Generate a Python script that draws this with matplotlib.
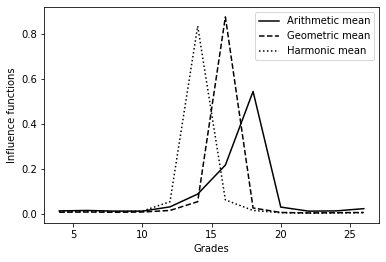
import numpy as np
import matplotlib
matplotlib.use("Agg")
import matplotlib.pyplot as plt

grades = [4, 6, 8, 10, 12, 14, 16, 18, 20, 22, 24, 26]
arithmetic = [0.013, 0.015, 0.012, 0.012, 0.031, 0.088, 0.217, 0.545, 0.030, 0.012, 0.013, 0.023]
geometric = [0.007, 0.008, 0.007, 0.008, 0.015, 0.054, 0.877, 0.026, 0.006, 0.004, 0.005, 0.006]
harmonic = [0.010, 0.011, 0.010, 0.012, 0.054, 0.836, 0.062, 0.015, 0.005, 0.003, 0.004, 0.005]

plt.rcParams['font.size'] = 10
fig = plt.figure(figsize=(386 / 72, 262 / 72), dpi=72)
ax = fig.add_subplot(111)
fig.subplots_adjust(left=0.114, right=0.982, top=0.973, bottom=0.149)

ax.plot(grades, arithmetic, color='k', linestyle='-', label="Arithmetic mean")
ax.plot(grades, geometric, color='k', linestyle='--', label="Geometric mean")
ax.plot(grades, harmonic, color='k', linestyle=':', label="Harmonic mean")
ax.set_xlabel("Grades")
ax.set_ylabel("Influence functions")
ax.legend()

fig.savefig("out.png", dpi=72)
